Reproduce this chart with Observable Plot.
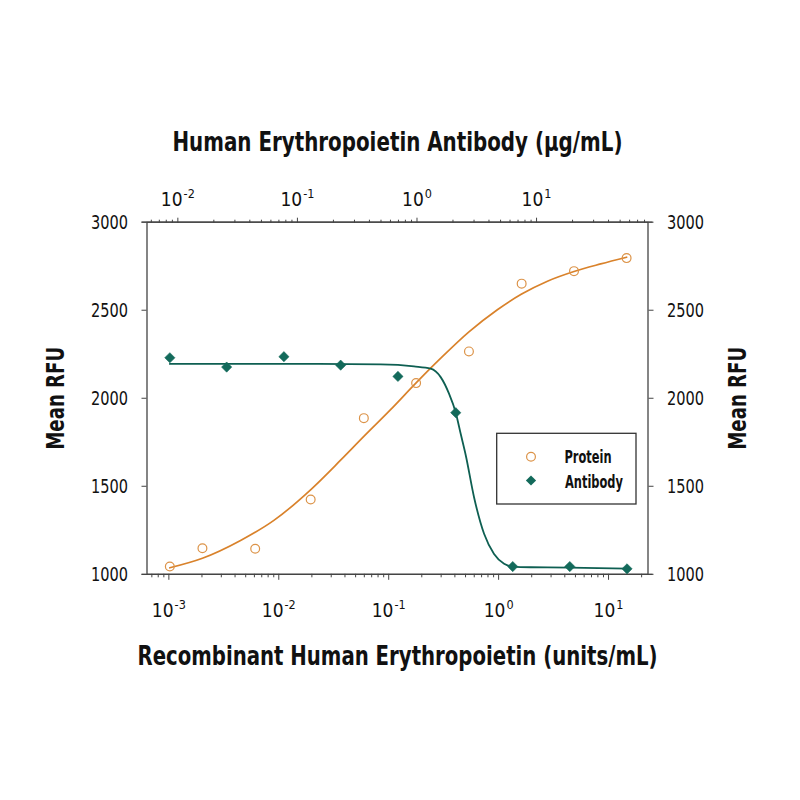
<!DOCTYPE html>
<html><head><meta charset="utf-8">
<script src="https://cdn.jsdelivr.net/npm/d3@7"></script>
<script src="https://cdn.jsdelivr.net/npm/@observablehq/plot@0.6"></script>
<style>
html,body{margin:0;padding:0;background:#fff;}
#wrap{position:relative;width:800px;height:800px;}
#wrap svg{position:absolute;left:0;top:0;}
</style></head><body><div id="wrap"></div>
<script>
// ---- data ----
const proteinConc = [0.00102, 0.00202, 0.0061, 0.0195, 0.0594, 0.1775, 0.537, 1.62, 4.85, 14.6];
const proteinRFU  = [1044, 1148, 1145, 1425, 1887, 2086, 2266, 2651, 2722, 2796];
const antibodyConc = [0.00857, 0.0256, 0.0771, 0.230, 0.693, 2.11, 6.32, 18.96, 57.1];
const antibodyRFU  = [2230, 2177, 2236, 2188, 2124, 1918, 1044, 1044, 1031];
// fitted curves
const proteinFitConc = [0.00102, 0.00202, 0.00449, 0.00902, 0.01946, 0.0365, 0.0594, 0.104, 0.1775, 0.296, 0.537, 0.974, 1.62, 2.78, 4.85, 8.49, 14.6];
const proteinFitRFU  = [1037, 1091, 1192, 1306, 1480, 1648, 1783, 1935, 2087, 2226, 2377, 2503, 2592, 2665, 2720, 2763, 2801];
const antibodyFitConc = [0.00857, 0.1064, 0.497, 0.944, 1.302, 1.578, 1.853, 2.11, 2.32, 2.56, 3.00, 3.64, 4.41, 5.35, 6.32, 8.94, 18.96, 57.1];
const antibodyFitRFU  = [2195, 2195, 2192, 2181, 2168, 2120, 2026, 1918, 1798, 1675, 1438, 1230, 1116, 1060, 1044, 1040, 1038, 1032];
// ticks & labels
const yTicks = [1000, 1500, 2000, 2500, 3000];
const proteinDecades = [1e-3, 1e-2, 1e-1, 1, 10];
const antibodyDecades = [1e-2, 1e-1, 1, 10];
const minorMultipliers = [2, 3, 4, 5, 6, 7, 8, 9];
const xTitle = "Recombinant Human Erythropoietin (units/mL)";
const x2Title = "Human Erythropoietin Antibody (μg/mL)";
const yTitle = "Mean RFU";
const legendLabels = ["Protein", "Antibody"];

// ---- styling ----
const FONT = '"Liberation Sans Narrow","DejaVu Sans Condensed","Roboto Condensed","Liberation Sans",sans-serif';
const ORANGE = "#d9822b", ORANGE_DOT = "#dc9348", GREEN = "#0e5f52", GREEN_DOT = "#136a5b", AXIS = "#444";
const M = {left: 146.5, right: 152.5, top: 221.7, bottom: 226.2};
const protDomain = [Math.pow(10, -3.199), Math.pow(10, 1.359)];
const abDomain = [Math.pow(10, -2.258), Math.pow(10, 1.932)];
const yDomain = [1000, 3000];

function minorTicks(decades, domain) {
  const out = [];
  for (const d of [decades[0] / 10, ...decades])
    for (const m of minorMultipliers) {
      const v = d * m;
      if (v >= domain[0] && v <= domain[1]) out.push(v);
    }
  return out;
}
const supFmt = d => "10^" + Math.round(Math.log10(d));

const protein = proteinConc.map((c, i) => ({conc: c, rfu: proteinRFU[i]}));
const antibody = antibodyConc.map((c, i) => ({conc: c, rfu: antibodyRFU[i]}));
const proteinFit = proteinFitConc.map((c, i) => ({conc: c, rfu: proteinFitRFU[i]}));
const antibodyFit = antibodyFitConc.map((c, i) => ({conc: c, rfu: antibodyFitRFU[i]}));

const common = {
  width: 800, height: 800,
  marginLeft: M.left, marginRight: M.right, marginTop: M.top, marginBottom: M.bottom
};

const base = Plot.plot({
  ...common,
  x: {type: "log", domain: protDomain},
  y: {domain: yDomain},
  style: {fontFamily: FONT, color: "#111", background: "white", overflow: "visible"},
  marks: [
    Plot.axisX({anchor: "bottom", ticks: proteinDecades, tickSize: 6, tickPadding: 23, tickFormat: supFmt, fontSize: 19, label: null, stroke: AXIS, fill: "#111"}),
    Plot.axisX({anchor: "bottom", ticks: minorTicks(proteinDecades, protDomain), tickSize: 3.5, tickFormat: () => "", label: null, stroke: AXIS}),
    Plot.axisY({anchor: "left", ticks: yTicks, tickSize: 5, tickPadding: 14, tickFormat: d => String(d), fontSize: 20, label: null, stroke: AXIS, fill: "#111"}),
    Plot.axisY({anchor: "right", ticks: yTicks, tickSize: 5, tickPadding: 14, tickFormat: d => String(d), fontSize: 20, label: null, stroke: AXIS, fill: "#111"}),
    Plot.frame({stroke: AXIS, strokeWidth: 1.3}),
    Plot.ruleY(yDomain, {stroke: AXIS, strokeWidth: 1.3, insetLeft: -5, insetRight: -5}),
    Plot.line(proteinFit, {x: "conc", y: "rfu", stroke: ORANGE, strokeWidth: 1.7, curve: "monotone-x"}),
    Plot.dot(protein, {x: "conc", y: "rfu", r: 4.4, stroke: ORANGE_DOT, strokeWidth: 1.2, fill: "none"}),
    Plot.text([xTitle], {text: d => d, frameAnchor: "bottom", dy: 90.7, lineAnchor: "bottom", textAnchor: "middle", fontSize: 26, fontWeight: "bold", fill: "#111"}),
    Plot.text([yTitle], {text: d => d, frameAnchor: "left", dx: -83.5, rotate: -90, lineAnchor: "bottom", textAnchor: "middle", fontSize: 25, fontWeight: "bold", fill: "#111"}),
    Plot.text([yTitle], {text: d => d, frameAnchor: "right", dx: 97.5, rotate: -90, lineAnchor: "bottom", textAnchor: "middle", fontSize: 25, fontWeight: "bold", fill: "#111"})
  ]
});

const overlay = Plot.plot({
  ...common,
  x: {type: "log", domain: abDomain},
  y: {domain: yDomain, axis: null},
  style: {fontFamily: FONT, color: "#111", background: "transparent", overflow: "visible"},
  marks: [
    Plot.axisX({anchor: "top", ticks: antibodyDecades, tickSize: 5, tickPadding: 11.5, tickFormat: supFmt, fontSize: 19, label: null, stroke: AXIS, fill: "#111"}),
    Plot.axisX({anchor: "top", ticks: minorTicks(antibodyDecades, abDomain), tickSize: 3, tickFormat: () => "", label: null, stroke: AXIS}),
    Plot.line(antibodyFit, {x: "conc", y: "rfu", stroke: GREEN, strokeWidth: 1.8, curve: "monotone-x"}),
    Plot.dot(antibody, {x: "conc", y: "rfu", symbol: "diamond2", r: 4.6, fill: GREEN_DOT, stroke: GREEN_DOT, strokeWidth: 0.6}),
    Plot.text([x2Title], {text: d => d, frameAnchor: "top", dy: -71.7, lineAnchor: "bottom", textAnchor: "middle", fontSize: 26, fontWeight: "bold", fill: "#111"})
  ]
});

const wrap = document.getElementById("wrap");
wrap.append(base, overlay);

const NS = "http://www.w3.org/2000/svg";
function cleanEmpty(svg) {
  svg.querySelectorAll("text").forEach(t => { if (t.textContent.trim() === "") t.remove(); });
}
function superscripts(svg) {
  svg.querySelectorAll("text").forEach(t => {
    const m = /^10\^(-?\d+)$/.exec(t.textContent);
    if (!m) return;
    t.textContent = "";
    const a = document.createElementNS(NS, "tspan");
    a.textContent = "10";
    const b = document.createElementNS(NS, "tspan");
    b.textContent = m[1];
    b.setAttribute("font-size", "0.66em");
    b.setAttribute("dx", "1");
    b.setAttribute("dy", "-0.6em");
    t.append(a, b);
  });
}
function fitText(svg, str, len) {
  svg.querySelectorAll("text").forEach(t => {
    if (t.textContent === str) {
      t.setAttribute("textLength", len);
      t.setAttribute("lengthAdjust", "spacingAndGlyphs");
    }
  });
}
cleanEmpty(base); cleanEmpty(overlay);
superscripts(base); superscripts(overlay);
fitText(base, xTitle, 520);
fitText(base, yTitle, 103);
fitText(overlay, x2Title, 450);
yTicks.forEach(v => fitText(base, String(v), 37));

// legend box
const lg = document.createElementNS(NS, "g");
lg.setAttribute("font-family", FONT);
lg.setAttribute("text-anchor", "start");
const rect = document.createElementNS(NS, "rect");
Object.entries({x: 496.7, y: 433.3, width: 139.3, height: 70.7, fill: "white", stroke: "#333", "stroke-width": 1.3}).forEach(([k, v]) => rect.setAttribute(k, v));
lg.append(rect);
const c = document.createElementNS(NS, "circle");
Object.entries({cx: 531, cy: 456.7, r: 4.4, fill: "none", stroke: ORANGE_DOT, "stroke-width": 1.2}).forEach(([k, v]) => c.setAttribute(k, v));
lg.append(c);
const dm = document.createElementNS(NS, "path");
dm.setAttribute("d", d3.symbol(d3.symbolDiamond2, Math.PI * 4.6 * 4.6)());
dm.setAttribute("transform", "translate(531,480.5)");
dm.setAttribute("fill", GREEN_DOT);
lg.append(dm);
[[legendLabels[0], 564.5, 463, 47], [legendLabels[1], 565, 487.5, 58]].forEach(([s, x, y, len]) => {
  const t = document.createElementNS(NS, "text");
  t.setAttribute("x", x); t.setAttribute("y", y);
  t.setAttribute("text-anchor", "start");
  t.setAttribute("font-size", 18); t.setAttribute("font-weight", "bold"); t.setAttribute("fill", "#111");
  t.setAttribute("textLength", len); t.setAttribute("lengthAdjust", "spacingAndGlyphs");
  t.textContent = s;
  lg.append(t);
});
overlay.append(lg);
</script></body></html>
